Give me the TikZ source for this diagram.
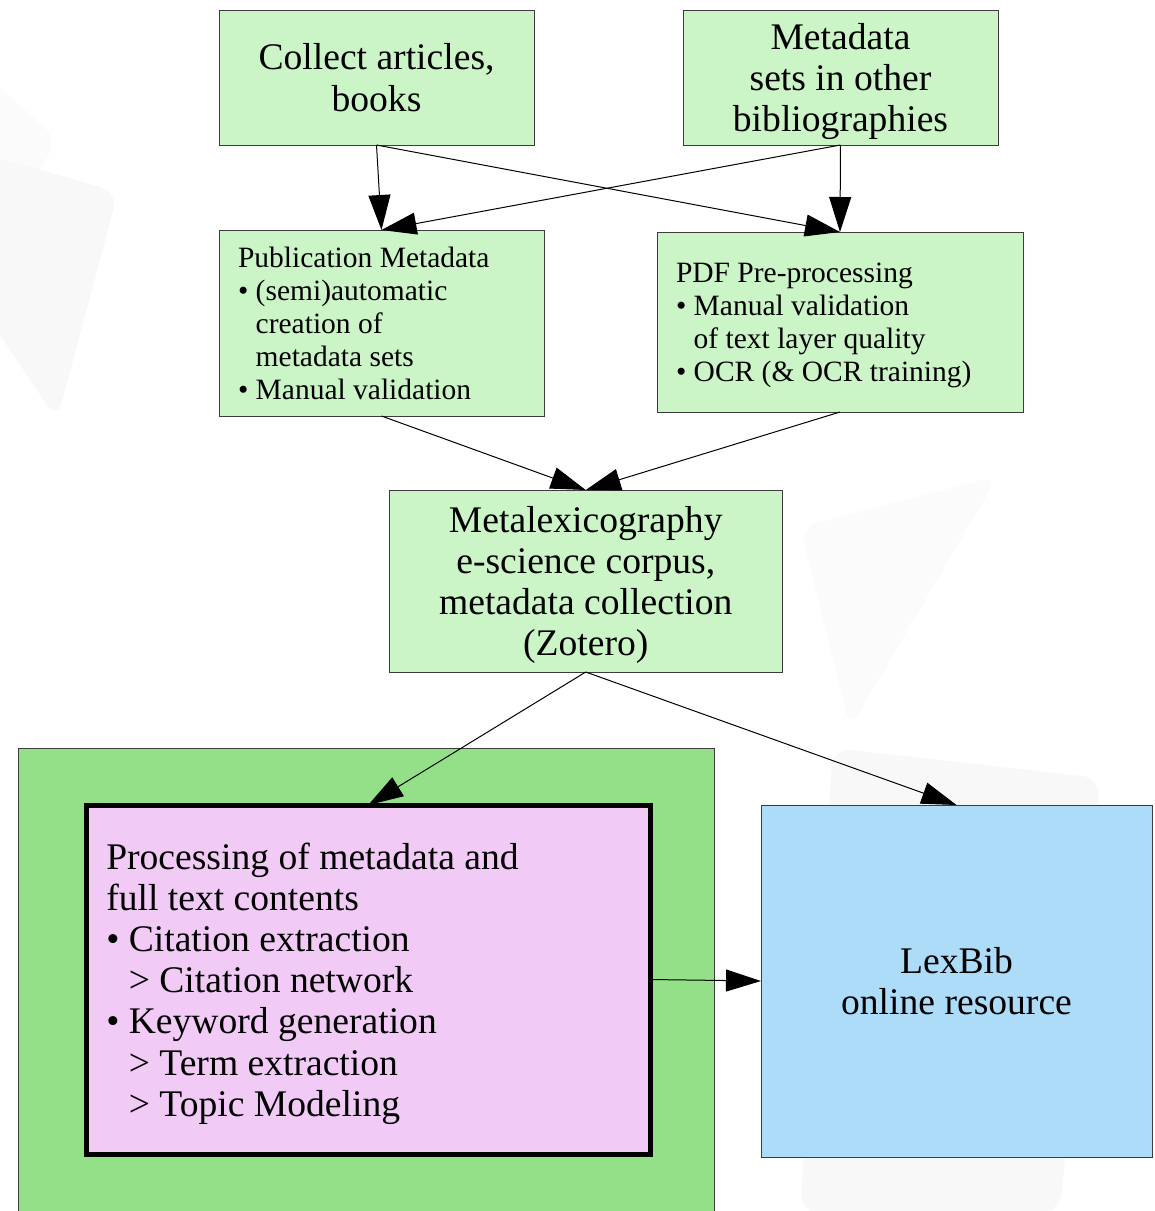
\documentclass[tikz,border=0pt]{standalone}
\usepackage{fontspec}
\setmainfont{Liberation Serif}
\usetikzlibrary{arrows.meta}
\definecolor{boxgreen}{RGB}{204,245,199}
\definecolor{groupgreen}{RGB}{148,224,136}
\definecolor{boxpink}{RGB}{241,202,246}
\definecolor{boxblue}{RGB}{172,220,248}
\definecolor{edgegray}{RGB}{60,60,60}
\definecolor{wmA}{RGB}{248,248,248}
\definecolor{wmB}{RGB}{251,251,251}
\newcommand{\bigtxt}{\fontsize{37.6}{41.2}\selectfont}
\newcommand{\smalltxt}{\fontsize{29.5}{33}\selectfont}
\newcommand{\indentb}{\hphantom{\textbullet\ }}
\tikzset{
  stepbox/.style={draw=edgegray, line width=1pt, fill=boxgreen, rectangle, inner sep=0pt, outer sep=0pt},
  flow/.style={draw=black, line width=1pt, -{Triangle[length=35pt,width=22pt]}},
  wm/.style={rounded corners=18pt, draw=none}
}
\begin{document}
\begin{tikzpicture}[x=1pt,y=-1pt]
\useasboundingbox[fill=white] (0,0) rectangle (1155,1211);
% faint background watermark shapes
\fill[wm, wmB] (-30,60) -- (58,140) -- (20,200) -- (-30,200) -- cycle;
\fill[wm, wmA] (-30,150) -- (118,192) -- (57,420) -- (-30,290) -- cycle;
\fill[wm, wmB] (800,527) -- (998,476) -- (850,728) -- cycle;
\fill[wm, wmA] (833,748) -- (1100,778) -- (1060,1211) -- (900,1230) -- (800,1211) -- cycle;
% group container
\node[draw=edgegray, line width=1pt, fill=groupgreen, inner sep=0pt, minimum width=696pt, minimum height=470pt] (grp) at (366,983) {};
% nodes
\node[stepbox, text depth=0pt, minimum width=315pt, minimum height=135pt, align=center, font=\bigtxt] (A) at (376.5,77.5) {Collect articles,\\books};
\node[stepbox, text depth=0pt, minimum width=315pt, minimum height=135pt, align=center, font=\bigtxt] (B) at (840.5,77.5) {Metadata\\sets in other\\bibliographies};
\node[stepbox, minimum width=325pt, minimum height=186pt, inner xsep=19pt, text width=287pt, align=flush left, font=\smalltxt] (C) at (381.5,323) {Publication Metadata\\\textbullet\ (semi)automatic\\\indentb creation of\\\indentb metadata sets\\\textbullet\ Manual validation};
\node[stepbox, text depth=99pt, minimum width=366pt, minimum height=180pt, inner xsep=19pt, text width=328pt, align=flush left, font=\smalltxt] (D) at (840,322) {PDF Pre-processing\\\textbullet\ Manual validation\\\indentb of text layer quality\\\textbullet\ OCR (\& OCR training)};
\node[stepbox, text depth=0pt, minimum width=392.5pt, minimum height=182pt, align=center, font=\bigtxt] (E) at (585.75,581) {Metalexicography\\e-science corpus,\\metadata collection\\(Zotero)};
\node[draw=black, line width=5pt, fill=boxpink, rectangle, inner sep=0pt, outer sep=0pt, text depth=247.2pt, minimum width=564.5pt, minimum height=349pt, inner xsep=20pt, text width=524pt, align=flush left, font=\bigtxt] (P) at (368.25,979.5) {Processing of metadata and\\full text contents\\\textbullet\ Citation extraction\\\indentb > Citation network\\\textbullet\ Keyword generation\\\indentb > Term extraction\\\indentb > Topic Modeling};
\node[draw=edgegray, line width=1pt, fill=boxblue, rectangle, inner sep=0pt, outer sep=0pt, text depth=0pt, minimum width=391pt, minimum height=352pt, align=center, font=\bigtxt] (L) at (956.5,981) {LexBib\\online resource};
% connectors
\draw[flow] (A.south) -- (C.north);
\draw[flow] (A.south) -- (D.north);
\draw[flow] (B.south) -- (C.north);
\draw[flow] (B.south) -- (D.north);
\draw[flow] (C.south) -- (E.north);
\draw[flow] (D.south) -- (E.north);
\draw[flow] (E.south) -- (P.north);
\draw[flow] (E.south) -- (L.north);
\draw[flow] (P.east) -- (L.west);
\end{tikzpicture}
\end{document}
